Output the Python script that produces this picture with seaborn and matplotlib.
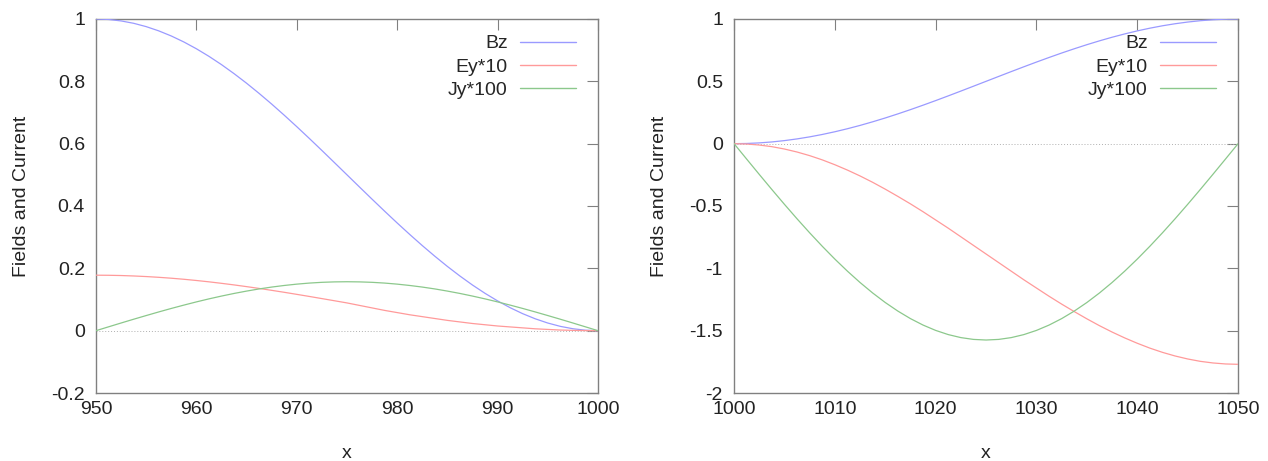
import matplotlib
matplotlib.use("Agg")
import matplotlib.pyplot as plt
import numpy as np
import pandas as pd
import seaborn as sns
from matplotlib.ticker import FuncFormatter, MultipleLocator

# sample grid, 1.25 apart
x_left = np.linspace(950, 1000, 41)
x_right = np.linspace(1000, 1050, 41)

# values
bz_left = [1.0, 0.9985, 0.9938, 0.9862, 0.9755, 0.9619, 0.9455, 0.9263, 0.9045, 0.8802,
           0.8536, 0.8247, 0.7939, 0.7612, 0.7270, 0.6913, 0.6545, 0.6167, 0.5782, 0.5392,
           0.5, 0.4608, 0.4218, 0.3833, 0.3455, 0.3087, 0.2730, 0.2388, 0.2061, 0.1753,
           0.1464, 0.1198, 0.0955, 0.0737, 0.0545, 0.0381, 0.0245, 0.0138, 0.0062, 0.0015, 0.0]
ey_left = [0.178, 0.1777, 0.1769, 0.1755, 0.1736, 0.1712, 0.1683, 0.1649, 0.1610, 0.1567,
           0.1519, 0.1468, 0.1413, 0.1355, 0.1294, 0.1231, 0.1165, 0.1098, 0.1029, 0.0960,
           0.089, 0.081, 0.073, 0.065, 0.058, 0.051, 0.045, 0.039, 0.033, 0.028,
           0.023, 0.019, 0.015, 0.012, 0.009, 0.006, 0.004, 0.002, 0.001, 0.0003, 0.0]
jy_left = [0.0, 0.0123, 0.0246, 0.0367, 0.0485, 0.0601, 0.0713, 0.0820, 0.0923, 0.1020,
           0.1110, 0.1194, 0.1270, 0.1339, 0.1399, 0.1450, 0.1493, 0.1527, 0.1551, 0.1565,
           0.157, 0.1565, 0.1551, 0.1527, 0.1493, 0.1450, 0.1399, 0.1339, 0.1270, 0.1194,
           0.1110, 0.1020, 0.0923, 0.0820, 0.0713, 0.0601, 0.0485, 0.0367, 0.0246, 0.0123, 0.0]

bz_right = [0.0, 0.0015, 0.0062, 0.0138, 0.0245, 0.0381, 0.0545, 0.0737, 0.0955, 0.1198,
            0.1464, 0.1753, 0.2061, 0.2388, 0.2730, 0.3087, 0.3455, 0.3833, 0.4218, 0.4608,
            0.5, 0.5392, 0.5782, 0.6167, 0.6545, 0.6913, 0.7270, 0.7612, 0.7939, 0.8247,
            0.8536, 0.8802, 0.9045, 0.9263, 0.9455, 0.9619, 0.9755, 0.9862, 0.9938, 0.9985, 1.0]
ey_right = [0.0, -0.003, -0.011, -0.024, -0.043, -0.067, -0.096, -0.130, -0.169, -0.212,
            -0.259, -0.310, -0.365, -0.423, -0.483, -0.546, -0.612, -0.678, -0.747, -0.816,
            -0.885, -0.954, -1.023, -1.092, -1.158, -1.224, -1.287, -1.347, -1.405, -1.460,
            -1.511, -1.558, -1.601, -1.640, -1.674, -1.703, -1.727, -1.746, -1.759, -1.767, -1.770]
jy_right = [0.0, -0.1236, -0.2464, -0.3677, -0.4867, -0.6027, -0.7150, -0.8229, -0.9258, -1.0229,
            -1.1137, -1.1976, -1.2742, -1.3429, -1.4033, -1.4551, -1.4979, -1.5315, -1.5556, -1.5701,
            -1.575, -1.5701, -1.5556, -1.5315, -1.4979, -1.4551, -1.4033, -1.3429, -1.2742, -1.1976,
            -1.1137, -1.0229, -0.9258, -0.8229, -0.7150, -0.6027, -0.4867, -0.3677, -0.2464, -0.1236, 0.0]

series = ["Bz", "Ey*10", "Jy*100"]
colors = {"Bz": "#9a9aff", "Ey*10": "#ff9a9a", "Jy*100": "#8cc88c"}


def long_form(x, bz, ey, jy):
    frames = []
    for name, vals in zip(series, [bz, ey, jy]):
        frames.append(pd.DataFrame({"x": x, "value": vals, "series": name}))
    return pd.concat(frames, ignore_index=True)


sns.set_style("white")
plt.rcParams["font.family"] = ["Liberation Sans", "DejaVu Sans"]
plt.rcParams["font.size"] = 14

frame_col = "#808080"
text_col = "#222222"

fig = plt.figure(figsize=(12.68, 4.61), dpi=100)
ax_l = fig.add_axes([0.0757, 0.1475, 0.3959, 0.8113])
ax_r = fig.add_axes([0.5789, 0.1475, 0.3975, 0.8113])

panels = [
    (ax_l, long_form(x_left, bz_left, ey_left, jy_left), (950, 1000), (-0.2, 1), 0.2),
    (ax_r, long_form(x_right, bz_right, ey_right, jy_right), (1000, 1050), (-2, 1), 0.5),
]

fmt = FuncFormatter(lambda v, p: f"{v:g}")

for ax, df, xlim, ylim, ystep in panels:
    ax.axhline(0, color="#b0b0b0", lw=0.7, ls=(0, (1, 2)), zorder=1)
    sns.lineplot(data=df, x="x", y="value", hue="series", palette=colors,
                 hue_order=series, ax=ax, lw=0.9, sort=False, zorder=3)
    ax.set_xlim(*xlim)
    ax.set_ylim(*ylim)
    ax.xaxis.set_major_locator(MultipleLocator(10))
    ax.yaxis.set_major_locator(MultipleLocator(ystep))
    ax.xaxis.set_major_formatter(fmt)
    ax.yaxis.set_major_formatter(fmt)
    ax.tick_params(direction="in", length=8, width=0.8, color=frame_col,
                   top=True, right=True, labelsize=14, labelcolor=text_col)
    ax.tick_params(axis="x", pad=6)
    ax.tick_params(axis="y", pad=8)
    for s in ax.spines.values():
        s.set_color(frame_col)
        s.set_linewidth(1.0)
    ax.set_xlabel("x", fontsize=14, labelpad=19, color=text_col)
    ax.set_ylabel("Fields and Current", fontsize=14, labelpad=15, color=text_col)
    ax.yaxis.label.set_y(0.527)
    leg = ax.legend(loc="upper right", bbox_to_anchor=(0.956, 0.958), frameon=False,
                    markerfirst=False, handlelength=2.9, handletextpad=0.6,
                    labelspacing=0.3, borderaxespad=0, borderpad=0, fontsize=14)
    for line in leg.get_lines():
        line.set_linewidth(1.0)

fig.savefig("out.png", dpi=100)
